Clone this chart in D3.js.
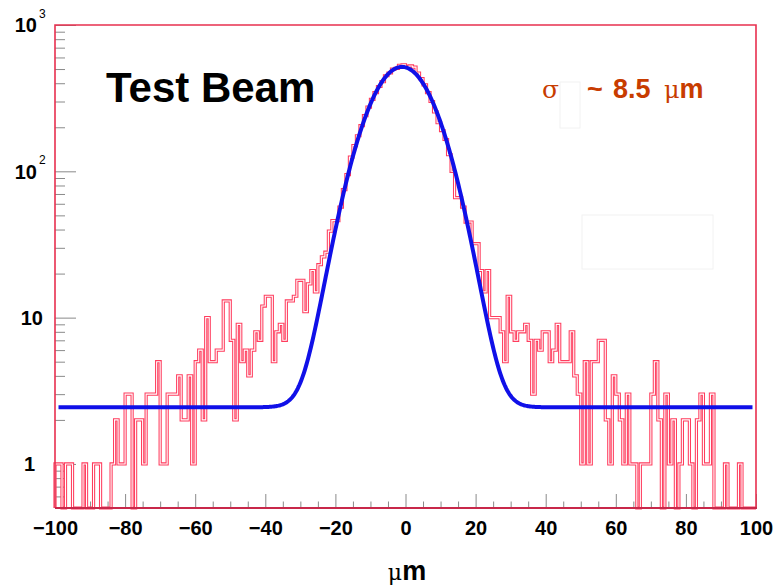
<!DOCTYPE html>
<html>
<head>
<meta charset="utf-8">
<script src="https://cdn.jsdelivr.net/npm/d3@7/dist/d3.min.js"></script>
<style>
  body { margin: 0; background: #fff; }
  svg { display: block; font-family: "Liberation Sans", Arial, sans-serif; }
</style>
</head>
<body>
<div id="chart"></div>
<script>
// residual histogram, 1 um bins from -100 to 100
const binStart = -100;
const binWidth = 1;
const counts = [
  // -100 .. -51
  1, 1, 0, 1, 1, 0, 0, 0, 1, 0,
  0, 1, 1, 0, 0, 0, 1, 2, 1, 1,
  3, 3, 0, 2, 2, 1, 3, 3, 3, 5,
  1, 1, 3, 3, 3, 4, 2, 2, 4, 1,
  5, 6, 2, 10, 5, 5, 6, 6, 13, 13,
  // -50 .. -1
  7, 2, 9, 5, 6, 4, 6, 8, 7, 12,
  14, 14, 5, 8, 9, 7, 13, 13, 14, 18,
  18, 11, 17, 21, 15, 23, 26, 28, 39, 46,
  46, 57, 75, 95, 125, 150, 175, 205, 240, 275,
  310, 345, 380, 410, 450, 470, 500, 505, 530, 535,
  // 0 .. 49
  520, 525, 515, 470, 430, 390, 345, 300, 255, 215,
  190, 165, 130, 100, 66, 66, 57, 45, 45, 32,
  32, 21, 15, 21, 10, 10, 10, 8, 5, 14,
  8, 7, 8, 8, 9, 7, 3, 7, 6, 8,
  8, 5, 6, 9, 5, 5, 5, 8, 4, 3,
  // 50 .. 99
  1, 5, 1, 5, 5, 7, 7, 2, 1, 4,
  3, 2, 1, 3, 1, 1, 0, 1, 1, 1,
  3, 5, 2, 0, 3, 1, 2, 0, 1, 2,
  2, 1, 0, 2, 3, 1, 1, 3, 0, 0,
  0, 1, 0, 0, 0, 1, 0, 0, 0, 0
];

// gaussian + constant fit
const fitAmp = 515;
const fitMean = -1;
const fitSigma = 8.3;
const fitConst = 2.44;
const fitRange = [-99, 99];

const xTicksMajor = [-100, -80, -60, -40, -20, 0, 20, 40, 60, 80, 100];
const yTicksMajor = [1, 10, 100, 1000];
const yTickLabels = [["1", ""], ["10", ""], ["10", "2"], ["10", "3"]];
const xTitle = ["μ", "m"];
const plotTitle = "Test Beam";
const sigmaText = ["σ", "~", "8.5", "μ", "m"];

const W = 775, H = 587;
const margin = {left: 55, right: 756, top: 25, bottom: 508};

const svg = d3.select("#chart").append("svg")
  .attr("width", W).attr("height", H);

const x = d3.scaleLinear().domain([-100, 100]).range([margin.left, margin.right]);
const y = d3.scaleLog().domain([0.5, 1000]).range([margin.bottom, margin.top]);
const yMin = y.domain()[0];

// faint boxes left over in the picture
svg.append("rect").attr("x", 560).attr("y", 82).attr("width", 20).attr("height", 46)
  .attr("fill", "none").attr("stroke", "#f2f2f2");
svg.append("rect").attr("x", 582).attr("y", 215).attr("width", 131).attr("height", 54)
  .attr("fill", "none").attr("stroke", "#f2f2f2");

// histogram outline as a step path
let pts = [[binStart, yMin]];
counts.forEach((c, i) => {
  let e = binStart + i * binWidth;
  let v = c > 0 ? c : yMin;
  pts.push([e, v]);
  pts.push([e + binWidth, v]);
});
pts.push([binStart + counts.length * binWidth, yMin]);

const histLine = d3.line()
  .x(d => x(d[0]))
  .y(d => y(Math.max(d[1], yMin)));

// x ticks (drawn under the histogram, like the picture)
const xMinor = d3.range(-100, 100.1, 5).filter(v => xTicksMajor.indexOf(v) < 0);
const gxMinor = svg.append("g").attr("transform", `translate(0,${margin.bottom})`)
  .call(d3.axisBottom(x).tickValues(xMinor).tickSize(-6.5).tickFormat(""));
const gx = svg.append("g").attr("transform", `translate(0,${margin.bottom})`)
  .call(d3.axisBottom(x).tickValues(xTicksMajor).tickSize(-14).tickPadding(13).tickFormat(d3.format("d")));

// y ticks
const yMinor = y.ticks().filter(v => yTicksMajor.indexOf(v) < 0 && v > yMin);
const gyMinor = svg.append("g").attr("transform", `translate(${margin.left},0)`)
  .call(d3.axisLeft(y).tickValues(yMinor).tickSize(-10).tickFormat(""));
const gy = svg.append("g").attr("transform", `translate(${margin.left},0)`)
  .call(d3.axisLeft(y).tickValues(yTicksMajor).tickSize(-21).tickFormat(""));

[gxMinor, gx, gyMinor, gy].forEach(g => {
  g.select(".domain").remove();
  g.selectAll(".tick line").attr("stroke", "#8a8a8a").attr("stroke-width", 1);
});
gx.selectAll(".tick text")
  .attr("fill", "#000")
  .style("font-size", "20px")
  .style("font-weight", "bold");

svg.append("path")
  .datum(pts)
  .attr("d", histLine)
  .attr("fill", "none")
  .attr("stroke", "#ff3d5e")
  .attr("stroke-width", 3.2)
  .attr("stroke-linejoin", "miter");
svg.append("path")
  .datum(pts)
  .attr("d", histLine)
  .attr("fill", "none")
  .attr("stroke", "#ffffff")
  .attr("stroke-width", 1.1);

// fit curve
const fitFn = u => fitAmp * Math.exp(-Math.pow(u - fitMean, 2) / (2 * fitSigma * fitSigma)) + fitConst;
const fitX = d3.range(fitRange[0], fitRange[1] + 0.001, 0.25);

svg.append("path")
  .datum(fitX)
  .attr("d", d3.line().x(u => x(u)).y(u => y(fitFn(u))))
  .attr("fill", "none")
  .attr("stroke", "#1010e8")
  .attr("stroke-width", 4);

// y labels with exponents
const ylab = svg.append("g")
  .style("font-size", "20px").style("font-weight", "bold").attr("fill", "#000");
yTicksMajor.forEach((v, i) => {
  let lab = yTickLabels[i];
  let xr = lab[1] ? 37 : (lab[0].length > 1 ? 43 : 35);
  ylab.append("text")
    .attr("x", xr).attr("y", y(v)).attr("dy", "0.36em")
    .attr("text-anchor", "end").text(lab[0]);
  if (lab[1]) {
    ylab.append("text")
      .attr("x", 39).attr("y", y(v) - 7)
      .style("font-size", "12px").style("font-weight", "normal")
      .text(lab[1]);
  }
});

// frame
svg.append("path")
  .attr("d", `M${margin.left},${margin.bottom}V${margin.top}H${margin.right}V${margin.bottom}`)
  .attr("fill", "none").attr("stroke", "#e8304f").attr("stroke-width", 1.6);
svg.append("line")
  .attr("x1", margin.left).attr("x2", margin.right + 1)
  .attr("y1", margin.bottom).attr("y2", margin.bottom)
  .attr("stroke", "#c8284a").attr("stroke-width", 2);

// axis title
const xt = svg.append("text").attr("x", 407).attr("y", 580)
  .attr("text-anchor", "middle").attr("fill", "#000").style("font-size", "27px");
xt.append("tspan").style("font-family", "'DejaVu Serif', serif").style("font-size", "22px").text(xTitle[0]);
xt.append("tspan").style("font-weight", "bold").text(xTitle[1]);

// labels
svg.append("text").attr("x", 106).attr("y", 102)
  .style("font-size", "42px").style("font-weight", "bold").attr("fill", "#000")
  .text(plotTitle);

const st = svg.append("text").attr("y", 98).attr("fill", "#c83c00").style("font-size", "27px");
st.append("tspan").attr("x", 542).style("font-family", "'DejaVu Serif', serif").style("font-size", "25px").text(sigmaText[0]);
st.append("tspan").attr("x", 587).style("font-weight", "bold").text(sigmaText[1]);
st.append("tspan").attr("x", 613).style("font-weight", "bold").text(sigmaText[2]);
st.append("tspan").attr("x", 664).style("font-family", "'DejaVu Serif', serif").style("font-size", "24px").text(sigmaText[3]);
st.append("tspan").style("font-weight", "bold").text(sigmaText[4]);
</script>
</body>
</html>
